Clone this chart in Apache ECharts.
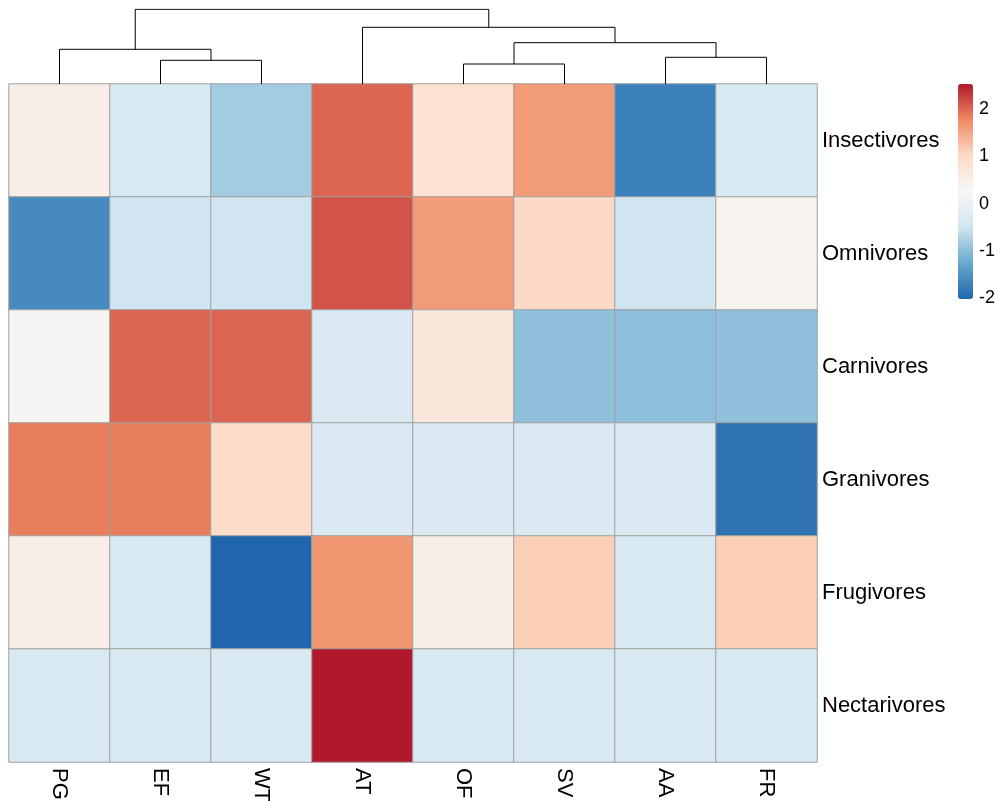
<!DOCTYPE html>
<html>
<head>
<meta charset="utf-8">
<title>Feeding guild heatmap</title>
<script src="https://cdn.jsdelivr.net/npm/echarts@6/dist/echarts.min.js"></script>
<style>
  html, body { margin: 0; padding: 0; background: #ffffff; }
  #chart { width: 1001px; height: 801px; }
</style>
</head>
<body>
<div id="chart"></div>
<script>
// Column and row labels (columns in dendrogram leaf order)
const columns = ['PG', 'EF', 'WT', 'AT', 'OF', 'SV', 'AA', 'FR'];
const guilds = ['Insectivores', 'Omnivores', 'Carnivores', 'Granivores', 'Frugivores', 'Nectarivores'];

// Row-scaled values, one array per guild, in column order
const insectivores = [0.50, -0.34, -0.83, 2.02, 0.82, 1.61, -1.73, -0.34];
const omnivores    = [-1.61, -0.50, -0.50, 2.13, 1.61, 1.02, -0.50, 0.38];
const carnivores   = [0.30, 2.02, 2.02, -0.30, 0.68, -0.97, -0.99, -0.97];
const granivores   = [1.85, 1.85, 0.98, -0.30, -0.30, -0.30, -0.30, -1.88];
const frugivores   = [0.50, -0.34, -2.02, 1.65, 0.50, 1.13, -0.34, 1.13];
const nectarivores = [-0.35, -0.35, -0.35, 2.53, -0.35, -0.35, -0.35, -0.35];
const rowValues = [insectivores, omnivores, carnivores, granivores, frugivores, nectarivores];

// Colour scale range and legend ticks
const scaleMin = -2.02;
const scaleMax = 2.53;
const legendTicks = [-2, -1, 0, 1, 2];
const palette = ['#2166AC', '#67A9CF', '#D1E5F0', '#F7F7F7', '#FDDBC7', '#EF8A62', '#B2182B'];

// Column dendrogram: [left child, right child, merge height]
// a child is either a leaf label or the index of an earlier merge
const treeMerges = [
  ['EF', 'WT', 2.37],
  ['PG', 0, 3.47],
  ['OF', 'SV', 2.00],
  ['AA', 'FR', 2.67],
  [2, 3, 4.13],
  ['AT', 4, 5.67],
  [1, 5, 7.47]
];
const treeTop = 7.5;

// Heatmap cells: [columnIndex, rowIndex, value]
const cells = [];
rowValues.forEach((vals, r) => {
  vals.forEach((v, c) => cells.push([c, r, v]));
});

// Dendrogram segments, positioned on the leaf scale (leaf i sits at i + 0.5)
const nodePos = [];
const nodeHeight = [];
function childInfo(ch) {
  if (typeof ch === 'string') {
    return { x: columns.indexOf(ch) + 0.5, h: 0 };
  }
  return { x: nodePos[ch], h: nodeHeight[ch] };
}
const treeLines = treeMerges.map((m, i) => {
  const a = childInfo(m[0]);
  const b = childInfo(m[1]);
  nodePos[i] = (a.x + b.x) / 2;
  nodeHeight[i] = m[2];
  return { coords: [[a.x, a.h], [a.x, m[2]], [b.x, m[2]], [b.x, b.h]] };
});

const FONT = '"Liberation Sans", Arial, Helvetica, sans-serif';

const chart = echarts.init(document.getElementById('chart'), null, { renderer: 'canvas' });

chart.setOption({
  backgroundColor: '#ffffff',
  animation: false,
  grid: [
    { left: 9, top: 84, width: 808, height: 678, outerBoundsMode: 'none', containLabel: false },
    { left: 9, top: 9, width: 808, height: 75, outerBoundsMode: 'none', containLabel: false },
    { left: 958, top: 84, width: 15, height: 215, outerBoundsMode: 'none', containLabel: false }
  ],
  xAxis: [
    {
      gridIndex: 0,
      type: 'category',
      data: columns,
      position: 'bottom',
      axisLine: { show: false },
      axisTick: { show: false },
      splitLine: { show: false },
      axisLabel: {
        rotate: -90,
        margin: 6,
        fontFamily: FONT,
        fontSize: 22,
        color: '#000000'
      }
    },
    { gridIndex: 1, type: 'value', min: 0, max: columns.length, show: false },
    { gridIndex: 2, type: 'value', min: 0, max: 1, show: false }
  ],
  yAxis: [
    {
      gridIndex: 0,
      type: 'category',
      data: guilds,
      inverse: true,
      position: 'right',
      axisLine: { show: false },
      axisTick: { show: false },
      splitLine: { show: false },
      axisLabel: {
        margin: 5,
        fontFamily: FONT,
        fontSize: 22,
        color: '#000000'
      }
    },
    { gridIndex: 1, type: 'value', min: 0, max: treeTop, show: false },
    {
      gridIndex: 2,
      type: 'value',
      min: scaleMin,
      max: scaleMax,
      position: 'right',
      axisLine: { show: false },
      axisTick: { show: false },
      splitLine: { show: false },
      axisLabel: {
        customValues: legendTicks,
        margin: 6,
        fontFamily: FONT,
        fontSize: 18,
        color: '#000000'
      }
    }
  ],
  visualMap: {
    type: 'continuous',
    seriesIndex: 0,
    min: scaleMin,
    max: scaleMax,
    calculable: false,
    realtime: false,
    text: null,
    showLabel: false,
    left: 958,
    top: 84,
    padding: 0,
    itemWidth: 15,
    itemHeight: 215,
    inRange: { color: palette }
  },
  series: [
    {
      type: 'heatmap',
      xAxisIndex: 0,
      yAxisIndex: 0,
      data: cells,
      itemStyle: { borderColor: '#a0a0a0', borderWidth: 1 },
      emphasis: { disabled: true },
      silent: true
    },
    {
      type: 'lines',
      coordinateSystem: 'cartesian2d',
      xAxisIndex: 1,
      yAxisIndex: 1,
      polyline: true,
      silent: true,
      lineStyle: { color: '#000000', width: 1, opacity: 1 },
      data: treeLines
    }
  ]
});
</script>
</body>
</html>
